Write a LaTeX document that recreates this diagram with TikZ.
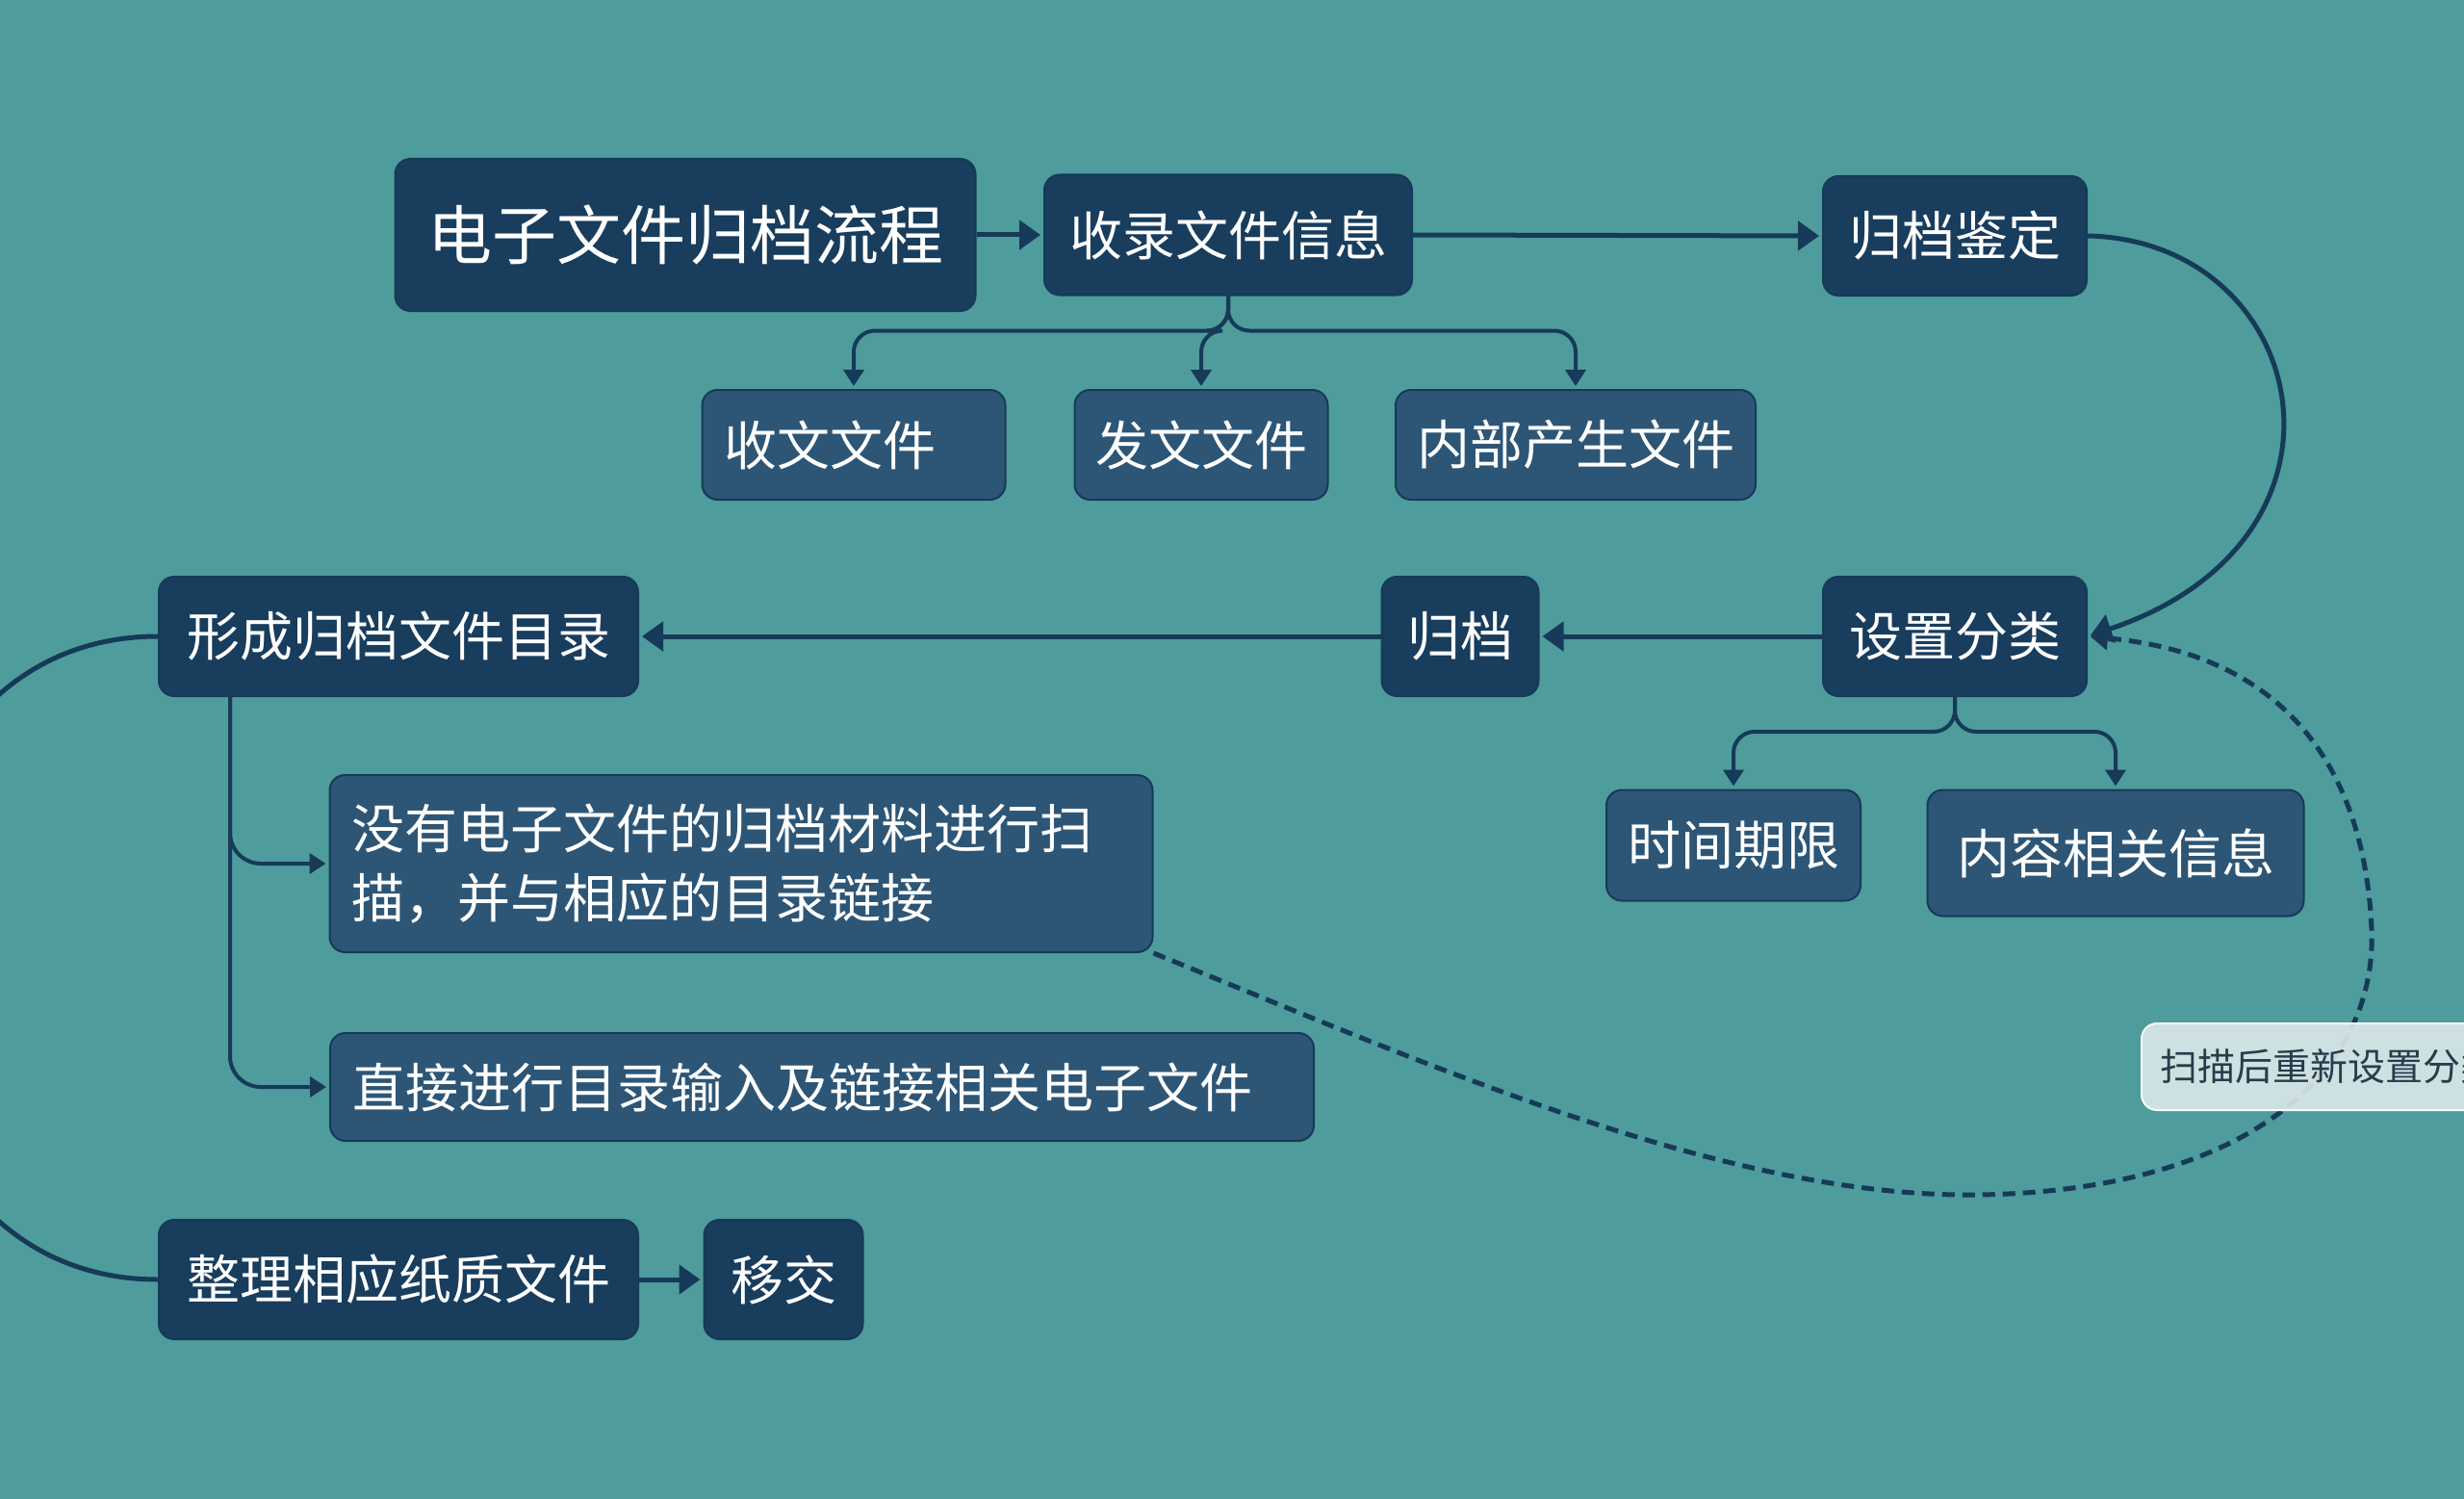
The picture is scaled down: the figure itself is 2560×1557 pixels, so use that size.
\documentclass[tikz,border=0pt]{standalone}
\usepackage{fontspec}
\setmainfont{Noto Sans CJK SC}
\usetikzlibrary{arrows.meta,calc}
\definecolor{bg}{HTML}{4E9C9C}
\definecolor{dk}{HTML}{183D5D}
\definecolor{lt}{HTML}{2D5676}
\definecolor{edge}{HTML}{163A58}
\definecolor{lab}{HTML}{DDE9EA}
\definecolor{labtxt}{HTML}{2A3B4C}
\begin{document}
\begin{tikzpicture}[x=1pt,y=-1pt,
  box/.style={rounded corners=16pt, draw=edge, line width=2pt, text=white,
    inner xsep=0pt, inner ysep=0pt, font=\fontsize{55}{72}\selectfont},
  dkbox/.style={box, fill=dk},
  ltbox/.style={box, fill=lt},
  conn/.style={draw=edge, line width=5pt, shorten >=3pt, -{Triangle[length=22pt,width=30pt]}},
  branch/.style={draw=edge, line width=4pt, shorten >=3pt, -{Triangle[length=17pt,width=21pt]}},
  dconn/.style={draw=edge, line width=5pt, dash pattern=on 13pt off 8pt, shorten >=3pt, -{Triangle[length=18pt,width=24pt]}},
  plain/.style={draw=edge, line width=5pt},
  labbox/.style={rounded corners=16pt, draw=white!80!lab, line width=2pt, fill=lab, fill opacity=0.9, text opacity=1,
    text=labtxt, inner xsep=19pt, inner ysep=0pt, minimum height=90pt,
    font=\fontsize{39}{45}\selectfont}]
\useasboundingbox (0,0) rectangle (2560,1557);
\fill[bg] (0,0) rectangle (2560,1557);

% nodes
\node[dkbox, minimum width=603pt, minimum height=158pt, font=\fontsize{67}{80}\selectfont] (title) at (712,244) {电子文件归档流程};
\node[dkbox, minimum width=382pt, minimum height=125pt] (shoulu) at (1276,244) {收录文件信息};
\node[dkbox, minimum width=274pt, minimum height=124pt] (jianding) at (2031,245) {归档鉴定};
\node[ltbox, text width=269pt, inner xsep=23pt, align=left, minimum height=114pt] (shouwen) at (887,462) {收文文件};
\node[ltbox, minimum width=263pt, minimum height=114pt] (fawen) at (1248,462) {发文文件};
\node[ltbox, minimum width=374pt, minimum height=114pt] (neibu) at (1637,462) {内部产生文件};
\node[dkbox, minimum width=498pt, minimum height=124pt] (xingcheng) at (414,661) {形成归档文件目录};
\node[dkbox, minimum width=163pt, minimum height=124pt] (guidang) at (1517,661) {归档};
\node[dkbox, minimum width=274pt, minimum height=124pt] (shezhi) at (2031,661) {设置分类};
\node[ltbox, minimum width=264pt, minimum height=115pt] (shijian) at (1801,878) {时间期限};
\node[ltbox, minimum width=391pt, minimum height=131pt] (neirong) at (2198,886) {内容相关信息};
\node[box, fill=lt, text width=809pt, inner xsep=23pt, align=left, minimum height=184pt] (meiyou) at (770,897)
  {没有电子文件的归档材料进行扫\\描，并与相应的目录链接};
\node[ltbox, text width=976pt, inner xsep=23pt, align=left, minimum height=112pt] (zhijie) at (854,1129) {直接进行目录输入及链接相关电子文件};
\node[dkbox, minimum width=498pt, minimum height=124pt] (zhengli) at (414,1329) {整理相应纸质文件};
\node[dkbox, minimum width=165pt, minimum height=124pt] (yijiao) at (814,1329) {移交};

% connectors
\draw[conn] (title.east) -- (shoulu.west);
\draw[conn] (shoulu.east) -- (jianding.west);
\draw[conn] (shezhi.west) -- (guidang.east);
\draw[conn] (guidang.west) -- (xingcheng.east);
\draw[conn] (zhengli.east) -- (yijiao.west);

\draw[branch, rounded corners=22pt] (shoulu.south) -- ++(0,36) -| (shouwen.north);
\draw[branch, rounded corners=22pt] (shoulu.south) -- ++(0,36) -| (fawen.north);
\draw[branch, rounded corners=22pt] (shoulu.south) -- ++(0,36) -| (neibu.north);

\draw[branch, rounded corners=22pt] (shezhi.south) -- ++(0,36) -| (shijian.north);
\draw[branch, rounded corners=22pt] (shezhi.south) -- ++(0,36) -| (neirong.north);

\coordinate (xc) at ($(xingcheng.south west)+(75,0)$);
\draw[branch, rounded corners=32pt] (xc) |- (meiyou.west);
\draw[branch, rounded corners=32pt] (xc) |- (zhijie.west);

\draw[conn] (jianding.east) .. controls (2400,250) and (2470,560) .. (shezhi.east);
\draw[plain] (xingcheng.west) .. controls (-200,661) and (-200,1329) .. (zhengli.west);

\draw[dconn] (meiyou.south east) .. controls (1500,1113) and (1800,1245) .. (2057,1241)
  .. controls (2340,1236) and (2470,1110) .. (2464,965)
  .. controls (2457,805) and (2380,680) .. (shezhi.east);

\node[labbox, anchor=west] (label) at (2224,1108) {扫描后重新设置分类};
\end{tikzpicture}
\end{document}
